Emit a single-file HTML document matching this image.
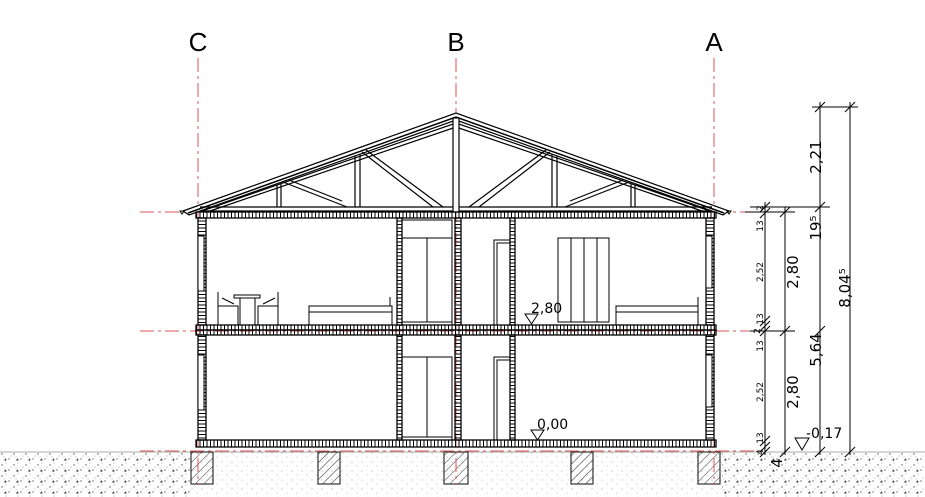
<!DOCTYPE html>
<html><head><meta charset="utf-8"><style>
html,body{margin:0;padding:0;background:#fff;}
svg{display:block;font-family:"DejaVu Sans","Liberation Sans",sans-serif;}
</style></head><body>
<svg width="925" height="497" viewBox="0 0 925 497" xmlns="http://www.w3.org/2000/svg">
<defs>
<pattern id="hb" width="3.5" height="20" patternUnits="userSpaceOnUse"><line x1="0.5" y1="0" x2="0.5" y2="20" stroke="#000" stroke-width="1"/></pattern>
<pattern id="vb" width="20" height="3.5" patternUnits="userSpaceOnUse"><line x1="0" y1="0.5" x2="20" y2="0.5" stroke="#000" stroke-width="1"/></pattern>
<pattern id="gd" width="12" height="11" patternUnits="userSpaceOnUse"><circle cx="2" cy="3" r="0.7" fill="#555"/><circle cx="9" cy="8" r="0.7" fill="#666"/><circle cx="6" cy="1" r="0.5" fill="#888"/><circle cx="11" cy="5" r="0.5" fill="#888"/><circle cx="4" cy="6" r="0.5" fill="#999"/><path d="M4 9.5 l1.4 -2.2 l1.4 2.2z" fill="#333"/></pattern>
<pattern id="gl" width="10" height="9" patternUnits="userSpaceOnUse"><circle cx="2" cy="3" r="0.6" fill="#aaa"/><circle cx="7" cy="7" r="0.6" fill="#bbb"/><circle cx="8" cy="2" r="0.4" fill="#ccc"/></pattern>
<pattern id="ht" width="6" height="6" patternUnits="userSpaceOnUse" patternTransform="rotate(45)"><line x1="0" y1="0" x2="0" y2="6" stroke="#333" stroke-width="1"/></pattern>
</defs>

<!-- ground -->
<rect x="0" y="452" width="190" height="45" fill="url(#gd)"/>
<rect x="722" y="452" width="203" height="45" fill="url(#gd)"/>
<rect x="190" y="452" width="532" height="45" fill="url(#gl)"/>
<line x1="0" y1="452" x2="925" y2="452" stroke="#aaa" stroke-width="1"/>
<!-- footings -->
<g fill="url(#ht)" stroke="#333" stroke-width="1.2">
<rect x="191" y="452" width="22" height="32"/><rect x="318" y="452" width="22" height="32"/><rect x="444" y="452" width="24" height="32"/><rect x="571" y="452" width="22" height="32"/><rect x="698" y="452" width="22" height="32"/>
</g>

<!-- axis labels -->
<g font-size="26" text-anchor="middle" fill="#000" font-family="Liberation Sans, sans-serif">
<text x="198" y="51">C</text><text x="456" y="51">B</text><text x="714" y="51">A</text>
</g>
<g stroke="#d55" stroke-width="1" stroke-dasharray="14,4,3,4" fill="none">
<line x1="198" y1="58" x2="198" y2="485"/><line x1="456" y1="58" x2="456" y2="485"/><line x1="714" y1="58" x2="714" y2="485"/>
<line x1="140" y1="212" x2="760" y2="212"/><line x1="140" y1="331" x2="760" y2="331"/><line x1="140" y1="451" x2="760" y2="451"/>
</g>

<!-- roof -->
<g stroke="#000" stroke-width="1.2" fill="none">
<polygon points="183,211 456,113 729,211 723,215 456,120 189,215" fill="#fff"/>
<polyline points="188,213 456,117 724,213" stroke-width="1.5"/>
<polyline points="202,211 456,123 710,211"/>
<polyline points="210,211 456,127 702,211"/>
<line x1="200" y1="207" x2="712" y2="207"/>
<line x1="200" y1="211" x2="712" y2="211"/>
<rect x="453" y="118" width="6" height="94" fill="#fff"/>
<line x1="277" y1="185" x2="277" y2="207"/><line x1="281" y1="184" x2="281" y2="207"/>
<line x1="355" y1="156" x2="355" y2="207"/><line x1="360" y1="154" x2="360" y2="207"/>
<line x1="283" y1="182" x2="347" y2="207"/><line x1="289" y1="180" x2="342" y2="201"/>
<line x1="362" y1="152" x2="433" y2="207"/><line x1="366" y1="150" x2="443" y2="207"/>
<line x1="635" y1="185" x2="635" y2="207"/><line x1="631" y1="184" x2="631" y2="207"/>
<line x1="557" y1="156" x2="557" y2="207"/><line x1="552" y1="154" x2="552" y2="207"/>
<line x1="629" y1="182" x2="565" y2="207"/><line x1="623" y1="180" x2="570" y2="201"/>
<line x1="550" y1="152" x2="479" y2="207"/><line x1="546" y1="150" x2="469" y2="207"/>
<path d="M180 211 l4 0 l-2 3z M731 211 l-4 0 l2 3z" stroke-width="1"/>
</g>

<!-- slabs -->
<g stroke="#000" stroke-width="1.3">
<rect x="196" y="212" width="520" height="6" fill="url(#hb)"/>
<rect x="196" y="325" width="520" height="5" fill="url(#hb)"/>
<rect x="196" y="330" width="520" height="5" fill="url(#hb)"/>
<rect x="196" y="440" width="520" height="7" fill="url(#hb)"/>
</g>
<!-- walls -->
<g stroke="#000" stroke-width="1.3" fill="url(#vb)">
<rect x="198" y="218" width="8" height="107"/><rect x="198" y="335" width="8" height="105"/>
<rect x="706" y="218" width="8" height="107"/><rect x="706" y="335" width="8" height="105"/>
<rect x="397" y="218" width="5" height="107"/><rect x="397" y="335" width="5" height="105"/>
<rect x="455" y="218" width="6" height="107"/><rect x="455" y="335" width="6" height="105"/>
<rect x="510" y="218" width="5" height="107"/><rect x="510" y="335" width="5" height="105"/>
</g>
<g stroke="#000" stroke-width="1" fill="#fff">
<rect x="198" y="236" width="6" height="55"/><rect x="198" y="355" width="6" height="55"/>
<rect x="706" y="236" width="6" height="52"/><rect x="706" y="355" width="6" height="52"/>
</g>

<!-- furniture -->
<g stroke="#000" stroke-width="1" fill="none">
<rect x="234" y="295" width="26" height="3"/><line x1="240" y1="298" x2="240" y2="325"/><line x1="255" y1="298" x2="255" y2="325"/>
<path d="M218 292 v33 M218 306 h20 v19 M222 298 l12 6 M278 292 v33 M278 306 h-20 v19 M275 298 l-12 6"/>
<rect x="309" y="306" width="83" height="6"/><rect x="309" y="312" width="83" height="13"/><line x1="390" y1="297" x2="390" y2="306"/>
<rect x="402" y="238" width="50" height="84"/><line x1="427" y1="238" x2="427" y2="322"/><rect x="402" y="220" width="50" height="18"/>
<rect x="402" y="322" width="50" height="3"/>
<rect x="402" y="357" width="50" height="80"/><line x1="427" y1="357" x2="427" y2="437"/><rect x="402" y="437" width="50" height="3"/>
<rect x="494" y="240" width="16" height="85"/><rect x="497" y="243" width="13" height="82"/>
<rect x="494" y="357" width="16" height="83"/><rect x="497" y="360" width="13" height="80"/>
<rect x="558" y="238" width="51" height="84"/><line x1="571" y1="238" x2="571" y2="322"/><line x1="584" y1="238" x2="584" y2="322"/><line x1="597" y1="238" x2="597" y2="322"/>
<rect x="616" y="306" width="82" height="6"/><rect x="616" y="312" width="82" height="13"/><line x1="698" y1="297" x2="698" y2="306"/>
</g>
<g font-size="14" fill="#000">
<text x="531" y="313">2,80</text><text x="537" y="429">0,00</text><text x="806" y="438">-0,17</text>
</g>
<g stroke="#000" fill="#fff" stroke-width="1">
<path d="M525 314 h13 l-6.5 10z"/><path d="M531 430 h13 l-6.5 10z"/><path d="M795 438 h14 l-7 12z"/>
</g>

<!-- dimension lines -->
<g stroke="#000" stroke-width="1">
<line x1="765" y1="202" x2="765" y2="455"/>
<line x1="785" y1="207" x2="785" y2="455"/>
<line x1="820" y1="102" x2="820" y2="455"/>
<line x1="850" y1="102" x2="850" y2="455"/>
<line x1="750" y1="207" x2="830" y2="207"/><line x1="745" y1="212" x2="795" y2="212"/>
<line x1="750" y1="331" x2="795" y2="331"/><line x1="812" y1="107" x2="858" y2="107"/>
</g>
<g stroke="#000" stroke-width="1">
<path d="M760 212l10-10M760 218l10-10M760 326l10-10M760 331l10-10M760 336l10-10M760 446l10-10M760 452l10-10M760 457l10-10"/>
<path d="M780 217l10-10M780 336l10-10M780 457l10-10M815 112l10-10M815 212l10-10M815 336l10-10M815 457l10-10M845 112l10-10M845 457l10-10"/>
</g>
<g fill="#000" font-size="9" text-anchor="middle">
<text transform="translate(763,226) rotate(-90)">13</text>
<text transform="translate(763,208) rotate(-90)">2</text>
<text transform="translate(763,272) rotate(-90)">2,52</text>
<text transform="translate(763,319) rotate(-90)">13</text>
<text transform="translate(760,331) rotate(-90)">2</text>
<text transform="translate(763,346) rotate(-90)">13</text>
<text transform="translate(763,392) rotate(-90)">2,52</text>
<text transform="translate(763,438) rotate(-90)">13</text>
<text transform="translate(763,452) rotate(-90)">4</text>
</g>
<g fill="#000" font-size="15" text-anchor="middle">
<text transform="translate(798,272) rotate(-90)">2,80</text>
<text transform="translate(798,392) rotate(-90)">2,80</text>
<text transform="translate(782,463) rotate(-90)">4</text>
<text transform="translate(821,157) rotate(-90)">2,21</text>
<text transform="translate(821,228) rotate(-90)">19⁵</text>
<text transform="translate(821,350) rotate(-90)">5,64</text>
<text transform="translate(850,288) rotate(-90)">8,04⁵</text>
</g>
</svg>
</body></html>
